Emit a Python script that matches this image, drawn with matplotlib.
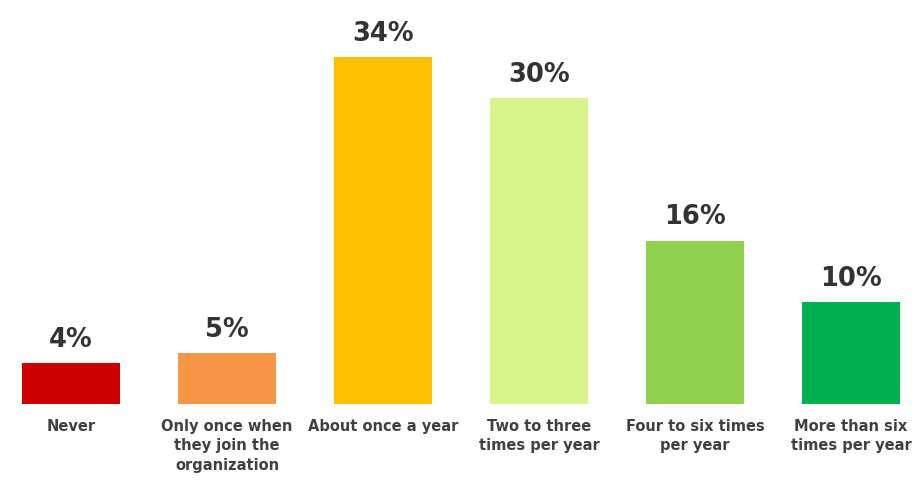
import matplotlib.pyplot as plt
import numpy as np

categories = ['Never', 'Only once when\nthey join the\norganization', 'About once a year',
              'Two to three\ntimes per year', 'Four to six times\nper year', 'More than six\ntimes per year']
values = [4, 5, 34, 30, 16, 10]
colors = ['#cc0000', '#f79646', '#ffc000', '#d8f48c', '#92d050', '#00b050']

fig = plt.figure(figsize=(9.15, 4.86), dpi=100)
ax = fig.add_axes([0, 0.1687, 1, 0.8313])

x = np.arange(len(values))
bars = ax.bar(x, values, width=0.628, color=colors)

for rect, v in zip(bars, values):
    ax.annotate(f'{v}%', xy=(rect.get_x() + rect.get_width() / 2, v),
                xytext=(0, 7.5), textcoords='offset points',
                ha='center', va='bottom', fontsize=18.5, fontweight='bold',
                color='#333333')

for xi, label in zip(x, categories):
    ax.annotate(label, xy=(xi, 0), xytext=(0, -11), textcoords='offset points',
                ha='center', va='top', fontsize=10.5, fontweight='bold',
                color='#404040', linespacing=1.35)

ax.set_xlim(-0.455, 5.41)
ax.set_ylim(0, 39.6)
ax.axis('off')

fig.savefig('out.png', dpi=100)
